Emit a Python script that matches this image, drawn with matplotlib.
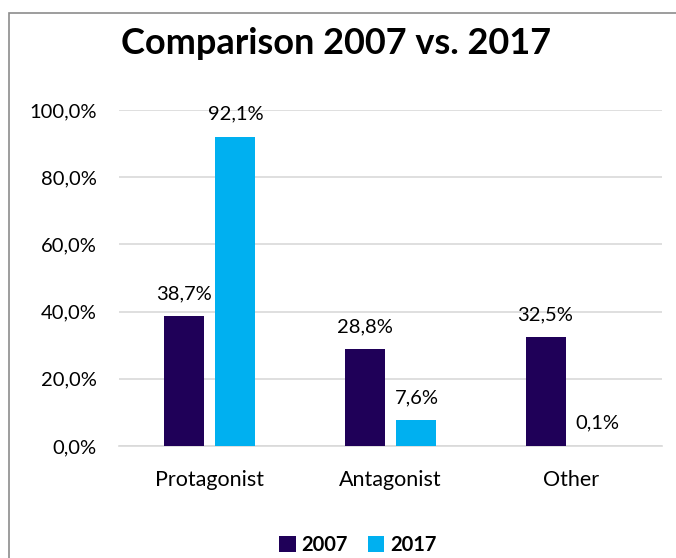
import numpy as np
import matplotlib
matplotlib.use("Agg")
import matplotlib.pyplot as plt
from matplotlib.patches import Rectangle
from matplotlib.ticker import FuncFormatter

categories = ["Protagonist", "Antagonist", "Other"]
series_names = ["2007", "2017"]
values_2007 = [0.387, 0.288, 0.325]
values_2017 = [0.921, 0.076, 0.001]
colors = ["#1F0058", "#00B0F0"]

plt.rcParams['font.family'] = ['Lato', 'DejaVu Sans']

fig = plt.figure(figsize=(6.76, 5.58), dpi=100)
ax = fig.add_axes([119 / 676, 112 / 558, 543 / 676, 336 / 558])

x = np.arange(len(categories))
w = 0.221
offset = 0.287
fs = 14.5
for vals, name, col, sh in zip([values_2007, values_2017], series_names, colors, [-offset / 2, offset / 2]):
    bars = ax.bar(x + sh, vals, width=w, color=col, label=name, zorder=3)
    for b, v in zip(bars, vals):
        ax.annotate(f"{v * 100:.1f}%".replace(".", ","),
                    (b.get_x() + b.get_width() / 2, v), xytext=(0, 10),
                    textcoords="offset points", ha="center", va="bottom",
                    fontsize=fs, color="#000000")

ax.set_xlim(-0.5, 2.5)
ax.set_ylim(0, 1.0)
ax.set_yticks(np.arange(0, 1.01, 0.2))
ax.yaxis.set_major_formatter(FuncFormatter(lambda v, p: f"{v * 100:.1f}%".replace(".", ",")))
ax.set_xticks(x)
ax.set_xticklabels(categories)
ax.tick_params(axis="both", length=0, labelsize=fs, colors="#000000")
ax.tick_params(axis="x", pad=17, labelsize=15.5)
ax.tick_params(axis="y", pad=16)
ax.grid(axis="y", color="#D9D9D9", linewidth=1.2, zorder=0)
for s in ["top", "right", "left"]:
    ax.spines[s].set_visible(False)
ax.spines["bottom"].set_color("#D9D9D9")
ax.spines["bottom"].set_linewidth(1.2)

fig.text(336 / 676, 1 - 43 / 558, "Comparison 2007 vs. 2017",
         ha="center", va="center", fontsize=26, fontweight="bold")

ax.legend(loc="center", bbox_to_anchor=(358 / 676, 13 / 558), bbox_transform=fig.transFigure,
          ncol=2, frameon=False, prop={"weight": "bold", "size": fs},
          handlelength=0.8, handleheight=0.8, handletextpad=0.3, columnspacing=1.0)

fig.patches.append(Rectangle((9 / 676, -0.1), 1.2, 1 - 13 / 558 + 0.1, transform=fig.transFigure,
                             fill=False, edgecolor="#8C8C8C", linewidth=1.2, clip_on=False))

fig.savefig("out.png", dpi=100)
